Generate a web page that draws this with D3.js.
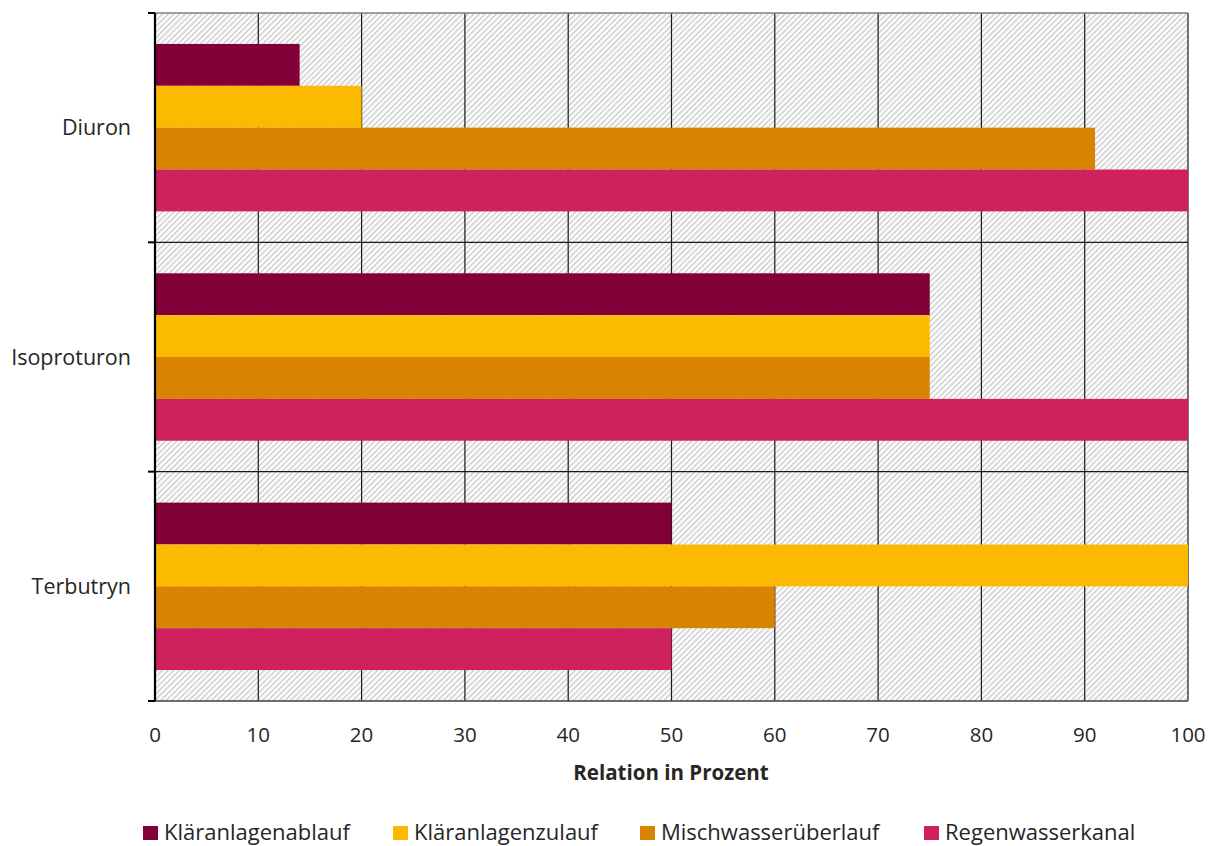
<!DOCTYPE html>
<html><head><meta charset="utf-8">
<script src="https://cdn.jsdelivr.net/npm/d3@7/dist/d3.min.js"></script>
<style>body{margin:0;background:#fff}svg{display:block}text{font-family:"Open Sans",Lato,sans-serif;fill:#262626}</style>
</head><body><svg id="c" width="1212" height="846"></svg>
<script>
const categories = ["Diuron", "Isoproturon", "Terbutryn"];
const seriesNames = ["Kläranlagenablauf", "Kläranlagenzulauf", "Mischwasserüberlauf", "Regenwasserkanal"];
const kläranlagenablauf = [14, 75, 50];
const kläranlagenzulauf = [20, 75, 100];
const mischwasserueberlauf = [91, 75, 60];
const regenwasserkanal = [100, 100, 50];
const xTicks = [0, 10, 20, 30, 40, 50, 60, 70, 80, 90, 100];
const colors = ["#800037", "#FBBA00", "#D98400", "#CF215E"];
const seriesValues = [kläranlagenablauf, kläranlagenzulauf, mischwasserueberlauf, regenwasserkanal];

const svg = d3.select("#c");
const L = 155, R = 1188, T = 13, B = 701;
const x = d3.scaleLinear().domain([0, 100]).range([L, R]);
const y = d3.scaleBand().domain(categories).range([T, B]).paddingInner(0.27).paddingOuter(0.135);
const yAll = d3.scaleBand().domain(categories).range([T, B]);
const ys = d3.scaleBand().domain(seriesNames).range([0, y.bandwidth()]);

const defs = svg.append("defs");
const pat = defs.append("pattern").attr("id", "hatch").attr("patternUnits", "userSpaceOnUse")
  .attr("width", 4).attr("height", 4).attr("patternTransform", "rotate(45)");
pat.append("rect").attr("width", 4).attr("height", 4).attr("fill", "#fff");
pat.append("rect").attr("x", 0).attr("width", 1.6).attr("height", 4).attr("fill", "#cfcfcf");

svg.append("rect").attr("x", L).attr("y", T).attr("width", R - L).attr("height", B - T).attr("fill", "url(#hatch)");

// gridlines
svg.append("g").selectAll("line").data(xTicks.slice(1)).join("line")
  .attr("x1", d => x(d)).attr("x2", d => x(d)).attr("y1", T).attr("y2", B)
  .attr("stroke", "#1a1a1a").attr("stroke-width", 1.2);
// category separators
svg.append("g").selectAll("line").data(categories.slice(1)).join("line")
  .attr("x1", L).attr("x2", R).attr("y1", d => yAll(d)).attr("y2", d => yAll(d))
  .attr("stroke", "#1a1a1a").attr("stroke-width", 1.2);
svg.append("line").attr("x1", L).attr("x2", R).attr("y1", T).attr("y2", T).attr("stroke", "#808080").attr("stroke-width", 1.5);
svg.append("line").attr("x1", L).attr("x2", R).attr("y1", B).attr("y2", B).attr("stroke", "#404040").attr("stroke-width", 1.5);

// bars
seriesNames.forEach((s, i) => {
  svg.append("g").selectAll("rect").data(categories).join("rect")
    .attr("x", x(0)).attr("y", d => y(d) + ys(s))
    .attr("width", (d, j) => x(seriesValues[i][j]) - x(0))
    .attr("height", ys.bandwidth())
    .attr("fill", colors[i]);
});

// y axis
svg.append("line").attr("x1", L).attr("x2", L).attr("y1", T).attr("y2", B).attr("stroke", "#000").attr("stroke-width", 2.2);
const yTickPos = categories.map(c => yAll(c)).concat([B]);
svg.append("g").selectAll("line").data(yTickPos).join("line")
  .attr("x1", L - 7).attr("x2", L).attr("y1", d => d).attr("y2", d => d)
  .attr("stroke", "#000").attr("stroke-width", 2);
svg.append("g").selectAll("text").data(categories).join("text")
  .attr("x", 131).attr("y", d => y(d) + y.bandwidth() / 2)
  .attr("dy", "0.35em")
  .attr("text-anchor", "end").attr("font-size", 21.5)
  .text(d => d);

// x tick labels
svg.append("g").selectAll("text").data(xTicks).join("text")
  .attr("x", d => x(d)).attr("y", 742).attr("text-anchor", "middle").attr("font-size", 20.5)
  .text(d => d);
svg.append("text").attr("x", 671).attr("y", 780).attr("text-anchor", "middle")
  .attr("font-size", 20.5).attr("font-weight", "bold").attr("fill", "#000").text("Relation in Prozent");

// legend
const legendX = [143, 393, 640, 924];
const lg = svg.append("g").selectAll("g").data(seriesNames).join("g")
  .attr("transform", (d, i) => `translate(${legendX[i]},0)`);
lg.append("rect").attr("x", 0).attr("y", 826).attr("width", 15).attr("height", 14).attr("fill", (d, i) => colors[i]);
lg.append("text").attr("x", 21).attr("y", 840).attr("font-size", 22).text(d => d);
</script></body></html>
